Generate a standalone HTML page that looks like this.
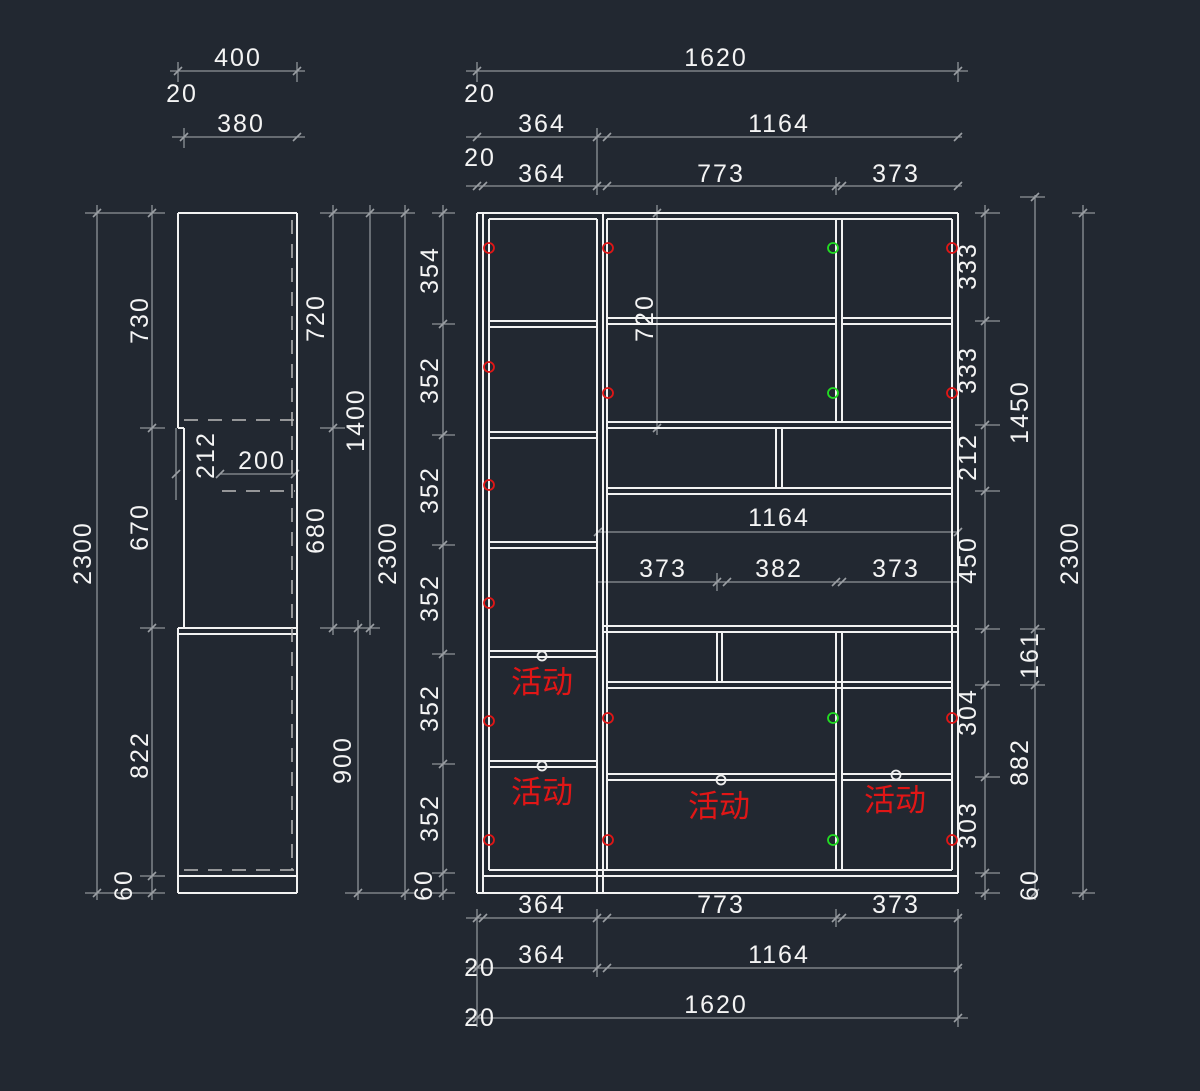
<!DOCTYPE html>
<html><head><meta charset="utf-8"><style>
html,body{margin:0;padding:0;background:#222831;}
svg{display:block}
.p line{stroke:#f2f2f2;stroke-width:2}
.d line{stroke:#8f9398;stroke-width:1.3}
.k path{stroke:#9a9ea3;stroke-width:1.6;fill:none}
.t{fill:#f4f4f4;font-family:"Liberation Sans",sans-serif;font-size:25px;letter-spacing:2px;text-anchor:middle}
.r{fill:#e01616;font-family:"Liberation Sans","Noto Sans CJK SC",sans-serif;font-size:31px;text-anchor:middle}
.dash{stroke:#bbb;stroke-width:1.5;stroke-dasharray:14 10;fill:none}
</style></head><body>
<svg width="1200" height="1091" viewBox="0 0 1200 1091" xmlns="http://www.w3.org/2000/svg">
<rect width="1200" height="1091" fill="#222831"/>
<g class="d">
<line x1="170" y1="71" x2="305" y2="71"/><line x1="172" y1="137" x2="305" y2="137"/>
<line x1="466" y1="71" x2="968" y2="71"/><line x1="466" y1="137" x2="962" y2="137"/><line x1="466" y1="186" x2="962" y2="186"/>
<line x1="598" y1="532" x2="958" y2="532"/><line x1="598" y1="582" x2="958" y2="582"/>
<line x1="466" y1="918" x2="962" y2="918"/><line x1="466" y1="968" x2="962" y2="968"/><line x1="466" y1="1018" x2="968" y2="1018"/>
<line x1="97" y1="205" x2="97" y2="900"/><line x1="152" y1="205" x2="152" y2="900"/>
<line x1="333" y1="205" x2="333" y2="635"/><line x1="370" y1="205" x2="370" y2="635"/><line x1="405" y1="205" x2="405" y2="900"/><line x1="358" y1="620" x2="358" y2="900"/>
<line x1="443" y1="205" x2="443" y2="900"/><line x1="657" y1="205" x2="657" y2="435"/>
<line x1="985" y1="205" x2="985" y2="900"/><line x1="1035" y1="195" x2="1035" y2="900"/><line x1="1083" y1="205" x2="1083" y2="900"/>
<line x1="85" y1="213" x2="165" y2="213"/><line x1="85" y1="893" x2="165" y2="893"/><line x1="140" y1="428" x2="165" y2="428"/><line x1="140" y1="628" x2="165" y2="628"/><line x1="140" y1="876" x2="165" y2="876"/>
<line x1="320" y1="213" x2="415" y2="213"/><line x1="320" y1="428" x2="345" y2="428"/><line x1="320" y1="628" x2="380" y2="628"/><line x1="345" y1="893" x2="415" y2="893"/>
<line x1="432" y1="213" x2="455" y2="213"/><line x1="432" y1="324" x2="455" y2="324"/><line x1="432" y1="435" x2="455" y2="435"/><line x1="432" y1="545" x2="455" y2="545"/><line x1="432" y1="654" x2="455" y2="654"/><line x1="432" y1="764" x2="455" y2="764"/><line x1="432" y1="873" x2="455" y2="873"/><line x1="432" y1="893" x2="455" y2="893"/>
<line x1="975" y1="213" x2="1000" y2="213"/><line x1="975" y1="321" x2="1000" y2="321"/><line x1="975" y1="425" x2="1000" y2="425"/><line x1="975" y1="491" x2="1000" y2="491"/><line x1="975" y1="629" x2="1000" y2="629"/><line x1="975" y1="685" x2="1000" y2="685"/><line x1="975" y1="777" x2="1000" y2="777"/><line x1="975" y1="873" x2="1000" y2="873"/><line x1="975" y1="893" x2="1000" y2="893"/>
<line x1="1020" y1="197" x2="1045" y2="197"/><line x1="1020" y1="629" x2="1045" y2="629"/><line x1="1020" y1="685" x2="1045" y2="685"/><line x1="1072" y1="213" x2="1095" y2="213"/><line x1="1072" y1="893" x2="1095" y2="893"/>
<line x1="220" y1="474" x2="295" y2="474"/><line x1="176" y1="428" x2="176" y2="500"/>
<line x1="178" y1="62" x2="178" y2="82"/><line x1="297" y1="62" x2="297" y2="82"/><line x1="184" y1="128" x2="184" y2="148"/>
<line x1="477" y1="62" x2="477" y2="82"/><line x1="958" y1="62" x2="958" y2="82"/><line x1="597" y1="128" x2="597" y2="195"/><line x1="836" y1="177" x2="836" y2="195"/>
<line x1="597" y1="909" x2="597" y2="977"/><line x1="836" y1="909" x2="836" y2="927"/><line x1="717" y1="573" x2="717" y2="591"/><line x1="477" y1="909" x2="477" y2="1027"/><line x1="958" y1="909" x2="958" y2="1027"/>
</g>
<g class="k">
<path d="M174 75l8-8M293 75l8-8M180 141l8-8M293 141l8-8M473 75l8-8M954 75l8-8M473 141l8-8M593 141l8-8M603 141l8-8M954 141l8-8M473 190l8-8M479 190l8-8M593 190l8-8M603 190l8-8M832 190l8-8M838 190l8-8M954 190l8-8"/>
<path d="M473 922l8-8M479 922l8-8M593 922l8-8M603 922l8-8M832 922l8-8M838 922l8-8M954 922l8-8M473 972l8-8M593 972l8-8M603 972l8-8M954 972l8-8M473 1022l8-8M954 1022l8-8M713 586l8-8M723 586l8-8M832 586l8-8M838 586l8-8M594 536l8-8M954 536l8-8"/>
<path d="M93 217l8-8M93 897l8-8M148 217l8-8M148 432l8-8M148 632l8-8M148 880l8-8M148 897l8-8M329 217l8-8M329 432l8-8M329 632l8-8M366 217l8-8M366 632l8-8M401 217l8-8M401 897l8-8M354 632l8-8M354 897l8-8"/>
<path d="M439 217l8-8M439 328l8-8M439 439l8-8M439 549l8-8M439 658l8-8M439 768l8-8M439 877l8-8M439 897l8-8M653 217l8-8M653 432l8-8"/>
<path d="M981 217l8-8M981 325l8-8M981 429l8-8M981 495l8-8M981 633l8-8M981 689l8-8M981 781l8-8M981 877l8-8M981 897l8-8M1031 201l8-8M1031 633l8-8M1031 689l8-8M1031 897l8-8M1079 217l8-8M1079 897l8-8M172 478l8-8M216 478l8-8M291 478l8-8"/>
</g>
<g class="p">
<line x1="178" y1="213" x2="297" y2="213"/><line x1="178" y1="213" x2="178" y2="428"/><line x1="178" y1="428" x2="184" y2="428"/>
<line x1="184" y1="428" x2="184" y2="628"/><line x1="297" y1="213" x2="297" y2="893"/>
<line x1="178" y1="628" x2="297" y2="628"/><line x1="178" y1="634" x2="297" y2="634"/><line x1="178" y1="628" x2="178" y2="893"/>
<line x1="178" y1="876" x2="297" y2="876"/><line x1="178" y1="893" x2="297" y2="893"/>
</g>
<path class="dash" d="M292 220V870M184 420H297M184 870H297M222 491H295"/>
<g class="p">
<line x1="477" y1="213" x2="477" y2="893"/><line x1="483" y1="213" x2="483" y2="893"/><line x1="489" y1="219" x2="489" y2="870"/>
<line x1="597" y1="219" x2="597" y2="893"/><line x1="603" y1="213" x2="603" y2="893"/><line x1="607" y1="219" x2="607" y2="870"/>
<line x1="952" y1="219" x2="952" y2="870"/><line x1="958" y1="213" x2="958" y2="893"/>
<line x1="477" y1="213" x2="958" y2="213"/><line x1="489" y1="219" x2="597" y2="219"/><line x1="607" y1="219" x2="952" y2="219"/>
<line x1="489" y1="870" x2="952" y2="870"/><line x1="483" y1="876" x2="958" y2="876"/><line x1="477" y1="893" x2="958" y2="893"/>
<line x1="489" y1="321" x2="597" y2="321"/><line x1="489" y1="327" x2="597" y2="327"/>
<line x1="489" y1="432" x2="597" y2="432"/><line x1="489" y1="438" x2="597" y2="438"/>
<line x1="489" y1="542" x2="597" y2="542"/><line x1="489" y1="548" x2="597" y2="548"/>
<line x1="489" y1="651" x2="597" y2="651"/><line x1="489" y1="657" x2="597" y2="657"/>
<line x1="489" y1="761" x2="597" y2="761"/><line x1="489" y1="767" x2="597" y2="767"/>
<line x1="607" y1="318" x2="836" y2="318"/><line x1="607" y1="324" x2="836" y2="324"/><line x1="842" y1="318" x2="952" y2="318"/><line x1="842" y1="324" x2="952" y2="324"/>
<line x1="836" y1="219" x2="836" y2="422"/><line x1="842" y1="219" x2="842" y2="422"/>
<line x1="607" y1="422" x2="952" y2="422"/><line x1="607" y1="428" x2="952" y2="428"/>
<line x1="776" y1="428" x2="776" y2="488"/><line x1="782" y1="428" x2="782" y2="488"/>
<line x1="607" y1="488" x2="952" y2="488"/><line x1="607" y1="494" x2="952" y2="494"/>
<line x1="603" y1="626" x2="958" y2="626"/><line x1="603" y1="632" x2="958" y2="632"/>
<line x1="717" y1="632" x2="717" y2="682"/><line x1="722" y1="632" x2="722" y2="682"/>
<line x1="836" y1="632" x2="836" y2="870"/><line x1="842" y1="632" x2="842" y2="870"/>
<line x1="607" y1="682" x2="952" y2="682"/><line x1="607" y1="688" x2="952" y2="688"/>
<line x1="607" y1="774" x2="836" y2="774"/><line x1="607" y1="780" x2="836" y2="780"/><line x1="842" y1="774" x2="952" y2="774"/><line x1="842" y1="780" x2="952" y2="780"/>
</g>
<g fill="none" stroke-width="1.8">
<g stroke="#e01616">
<circle cx="489" cy="248" r="5"/><circle cx="489" cy="367" r="5"/><circle cx="489" cy="485" r="5"/><circle cx="489" cy="603" r="5"/><circle cx="489" cy="721" r="5"/><circle cx="489" cy="840" r="5"/>
<circle cx="608" cy="248" r="5"/><circle cx="608" cy="393" r="5"/><circle cx="608" cy="718" r="5"/><circle cx="608" cy="840" r="5"/>
<circle cx="952" cy="248" r="5"/><circle cx="952" cy="393" r="5"/><circle cx="952" cy="718" r="5"/><circle cx="952" cy="840" r="5"/>
</g>
<g stroke="#22dd22"><circle cx="833" cy="248" r="5"/><circle cx="833" cy="393" r="5"/><circle cx="833" cy="718" r="5"/><circle cx="833" cy="840" r="5"/></g>
<g stroke="#eee"><circle cx="542" cy="656" r="4.5"/><circle cx="542" cy="766" r="4.5"/><circle cx="721" cy="780" r="4.5"/><circle cx="896" cy="775" r="4.5"/></g>
</g>
<g class="t">
<text x="238" y="66">400</text><text x="182" y="102">20</text><text x="241" y="132">380</text><text x="262" y="469">200</text>
<text x="716" y="66">1620</text><text x="480" y="102">20</text><text x="542" y="132">364</text><text x="779" y="132">1164</text>
<text x="480" y="166">20</text><text x="542" y="182">364</text><text x="721" y="182">773</text><text x="896" y="182">373</text>
<text x="779" y="526">1164</text><text x="663" y="577">373</text><text x="779" y="577">382</text><text x="896" y="577">373</text>
<text x="542" y="913">364</text><text x="721" y="913">773</text><text x="896" y="913">373</text>
<text x="480" y="976">20</text><text x="542" y="963">364</text><text x="779" y="963">1164</text>
<text x="480" y="1026">20</text><text x="716" y="1013">1620</text>
<text transform="translate(91,553) rotate(-90)">2300</text>
<text transform="translate(148,320) rotate(-90)">730</text>
<text transform="translate(148,527) rotate(-90)">670</text>
<text transform="translate(214,455) rotate(-90)">212</text>
<text transform="translate(148,755) rotate(-90)">822</text>
<text transform="translate(132,885) rotate(-90)">60</text>
<text transform="translate(324,318) rotate(-90)">720</text>
<text transform="translate(324,530) rotate(-90)">680</text>
<text transform="translate(364,420) rotate(-90)">1400</text>
<text transform="translate(396,553) rotate(-90)">2300</text>
<text transform="translate(351,760) rotate(-90)">900</text>
<text transform="translate(432,885) rotate(-90)">60</text>
<text transform="translate(438,270) rotate(-90)">354</text>
<text transform="translate(438,380) rotate(-90)">352</text>
<text transform="translate(438,490) rotate(-90)">352</text>
<text transform="translate(438,598) rotate(-90)">352</text>
<text transform="translate(438,708) rotate(-90)">352</text>
<text transform="translate(438,818) rotate(-90)">352</text>
<text transform="translate(653,318) rotate(-90)">720</text>
<text transform="translate(976,266) rotate(-90)">333</text>
<text transform="translate(976,370) rotate(-90)">333</text>
<text transform="translate(976,457) rotate(-90)">212</text>
<text transform="translate(976,560) rotate(-90)">450</text>
<text transform="translate(976,712) rotate(-90)">304</text>
<text transform="translate(976,825) rotate(-90)">303</text>
<text transform="translate(1038,885) rotate(-90)">60</text>
<text transform="translate(1028,412) rotate(-90)">1450</text>
<text transform="translate(1038,655) rotate(-90)">161</text>
<text transform="translate(1028,762) rotate(-90)">882</text>
<text transform="translate(1078,553) rotate(-90)">2300</text>
</g>
<g class="r">
<text x="542" y="693">活动</text><text x="542" y="803">活动</text><text x="719" y="817">活动</text><text x="895" y="811">活动</text>
</g>
</svg>
</body></html>
